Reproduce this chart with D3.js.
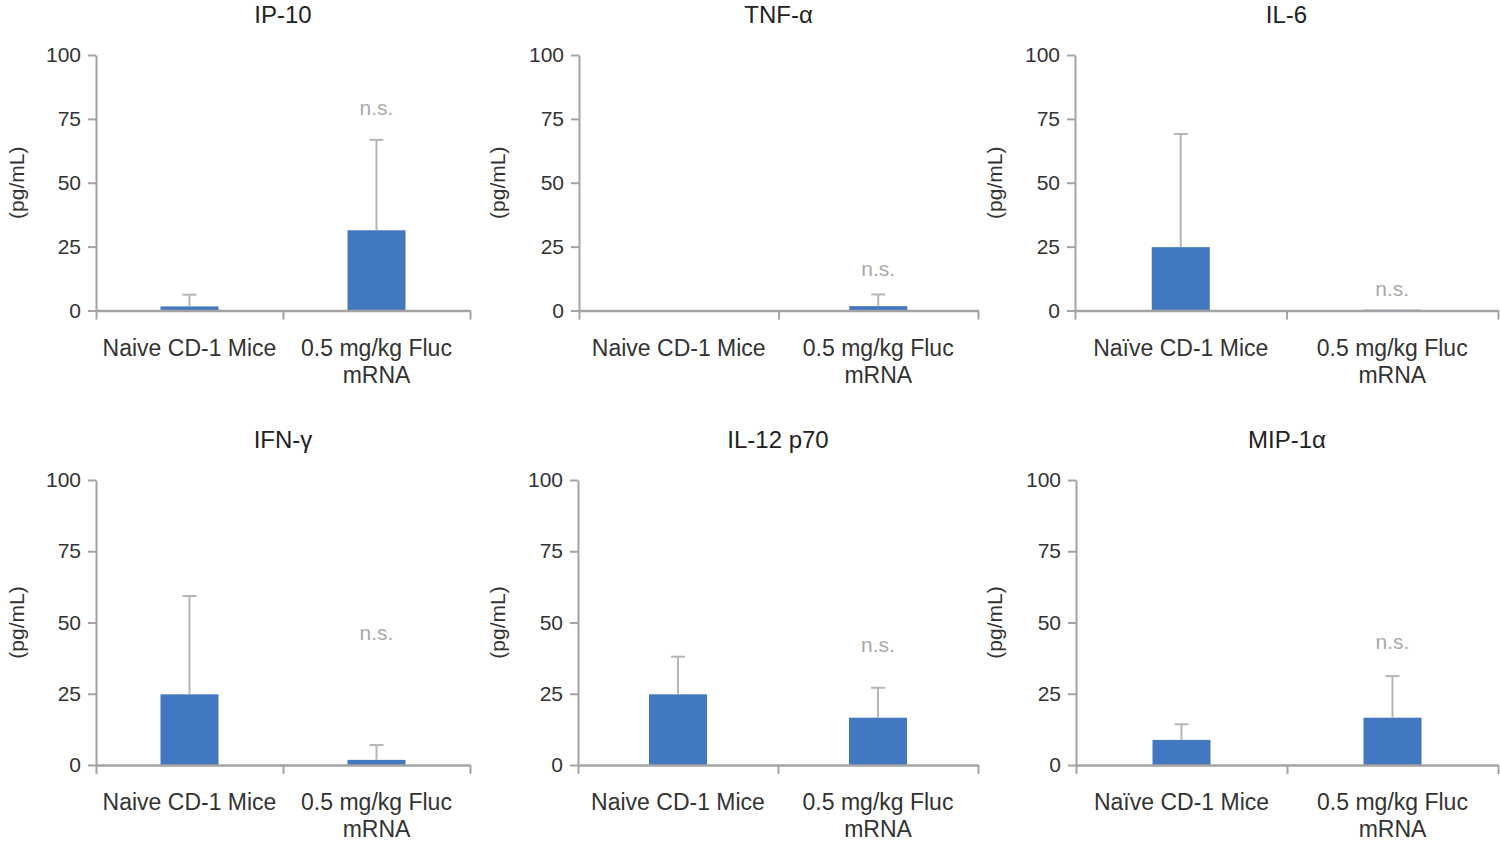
<!DOCTYPE html>
<html>
<head>
<meta charset="utf-8">
<script src="https://cdn.jsdelivr.net/npm/d3@7"></script>
<style>
  html, body { margin: 0; padding: 0; background: #fff; }
  svg { display: block; }
  text { font-family: "Liberation Sans", Arial, Helvetica, sans-serif; }
</style>
</head>
<body>
<svg id="chart" width="1500" height="845"></svg>
<script>
// ---- data ----
const titles = ["IP-10", "TNF-\u03B1", "IL-6", "IFN-\u03B3", "IL-12 p70", "MIP-1\u03B1"];
const naiveLabels = ["Naive CD-1 Mice", "Naive CD-1 Mice", "Na\u00EFve CD-1 Mice",
                     "Naive CD-1 Mice", "Naive CD-1 Mice", "Na\u00EFve CD-1 Mice"];
const flucLabel = ["0.5 mg/kg Fluc", "mRNA"];
const naiveMean = [1.6, 0, 24.8, 24.8, 24.8, 8.8];
const naiveErr  = [4.6, 0, 44.3, 34.5, 13.2, 5.5];
const flucMean  = [31.4, 1.7, 0.3, 1.8, 16.6, 16.6];
const flucErr   = [35.4, 4.6, 0, 5.2, 10.5, 14.6];
const nsLevel   = [79.5, 16.5, 8.7, 46.3, 42.1, 43.3];
const yTicks    = [0, 25, 50, 75, 100];
const yLabel    = "(pg/mL)";

// ---- layout ----
const layout = [
  {x0: 96,   x1: 470,  top: 55,  bottom: 310.5, lx: 17},
  {x0: 579,  x1: 978,  top: 55,  bottom: 310.5, lx: 498},
  {x0: 1075, x1: 1498, top: 55,  bottom: 310.5, lx: 995},
  {x0: 96,   x1: 470,  top: 480, bottom: 765,   lx: 17},
  {x0: 578,  x1: 978,  top: 480, bottom: 765,   lx: 498},
  {x0: 1076, x1: 1498, top: 480, bottom: 765,   lx: 995}
];
const barColor = "#4178c0";
const axisColor = "#a3a3a3";
const errColor = "#b5b5b5";
const textColor = "#333333";
const barW = 58;

const svg = d3.select("#chart");

titles.forEach((title, i) => {
  const L = layout[i];
  const g = svg.append("g");
  const cats = [naiveLabels[i], flucLabel.join(" ")];
  const x = d3.scaleBand().domain(cats).range([L.x0, L.x1]).padding(0);
  const y = d3.scaleLinear().domain([0, 100]).range([L.bottom, L.top]);
  const xl = d3.scaleLinear().domain([0, 2]).range([L.x0, L.x1]);

  const rows = [
    {cat: cats[0], mean: naiveMean[i], err: naiveErr[i]},
    {cat: cats[1], mean: flucMean[i], err: flucErr[i]}
  ];

  // bars
  g.selectAll("rect.bar").data(rows.filter(d => d.mean > 0)).join("rect")
    .attr("class", "bar")
    .attr("x", d => x(d.cat) + x.bandwidth() / 2 - barW / 2)
    .attr("width", barW)
    .attr("y", d => y(d.mean))
    .attr("height", d => y(0) - y(d.mean))
    .attr("fill", barColor);

  // error bars (upper only)
  const eb = rows.filter(d => d.err > 0);
  g.selectAll("line.err").data(eb).join("line")
    .attr("class", "err")
    .attr("x1", d => x(d.cat) + x.bandwidth() / 2)
    .attr("x2", d => x(d.cat) + x.bandwidth() / 2)
    .attr("y1", d => y(d.mean))
    .attr("y2", d => y(d.mean + d.err))
    .attr("stroke", errColor).attr("stroke-width", 2);
  g.selectAll("line.cap").data(eb).join("line")
    .attr("class", "cap")
    .attr("x1", d => x(d.cat) + x.bandwidth() / 2 - 7)
    .attr("x2", d => x(d.cat) + x.bandwidth() / 2 + 7)
    .attr("y1", d => y(d.mean + d.err))
    .attr("y2", d => y(d.mean + d.err))
    .attr("stroke", errColor).attr("stroke-width", 2);

  // y axis
  const ya = g.append("g").attr("transform", `translate(${L.x0},0)`)
    .call(d3.axisLeft(y).tickValues(yTicks).tickSize(8).tickSizeOuter(0).tickPadding(7));
  ya.select(".domain").attr("stroke", axisColor).attr("stroke-width", 2);
  ya.selectAll(".tick line").attr("stroke", axisColor).attr("stroke-width", 2);
  ya.selectAll(".tick text").attr("fill", textColor)
    .style("font-size", "21px");

  // x axis
  const xa = g.append("g").attr("transform", `translate(0,${L.bottom})`)
    .call(d3.axisBottom(xl).tickValues([0, 1, 2]).tickFormat("").tickSize(9).tickSizeOuter(0));
  xa.select(".domain").attr("stroke", axisColor).attr("stroke-width", 2.5);
  xa.selectAll(".tick line").attr("stroke", axisColor).attr("stroke-width", 2);

  // category labels
  const labelLines = [[cats[0]], flucLabel];
  cats.forEach((c, k) => {
    const t = g.append("text")
      .attr("x", x(c) + x.bandwidth() / 2)
      .attr("y", L.bottom + 45)
      .attr("text-anchor", "middle")
      .attr("fill", textColor)
      .style("font-size", "23px");
    labelLines[k].forEach((line, j) => {
      t.append("tspan").attr("x", x(c) + x.bandwidth() / 2).attr("dy", j === 0 ? 0 : 27).text(line);
    });
  });

  // n.s. label
  g.append("text")
    .attr("x", x(cats[1]) + x.bandwidth() / 2)
    .attr("y", y(nsLevel[i]))
    .attr("dy", "0.35em")
    .attr("text-anchor", "middle")
    .attr("fill", "#aaaaaa")
    .style("font-size", "21px")
    .text("n.s.");

  // title
  g.append("text")
    .attr("x", (L.x0 + L.x1) / 2)
    .attr("y", L.top - 32)
    .attr("text-anchor", "middle")
    .attr("fill", "#222222")
    .style("font-size", "24px")
    .text(title);

  // y label
  g.append("text")
    .attr("transform", `translate(${L.lx},${(L.top + L.bottom) / 2}) rotate(-90)`)
    .attr("text-anchor", "middle")
    .attr("dy", "0.35em")
    .attr("fill", textColor)
    .style("font-size", "21px")
    .text(yLabel);
});
</script>
</body>
</html>
